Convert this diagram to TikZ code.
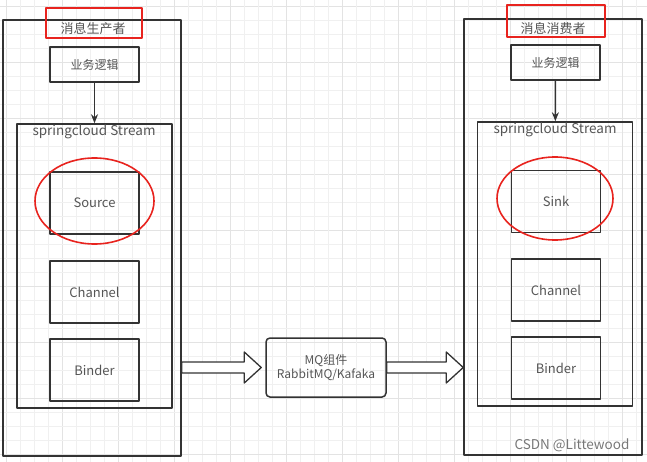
\documentclass[tikz,border=0pt]{standalone}
\usepackage{fontspec}
\setmainfont{Noto Sans CJK SC}
\usetikzlibrary{arrows.meta,calc}
\definecolor{boxline}{HTML}{333333}
\definecolor{boxtext}{HTML}{555555}
\definecolor{markred}{HTML}{E8231E}
\definecolor{gridminor}{HTML}{F0F0F0}
\definecolor{gridmajor}{HTML}{E3E3E3}
\tikzset{
  every picture/.style={line join=round, >={Stealth[length=9pt,width=7pt]}},
  box/.style={draw=boxline, line width=1.5pt, text=boxtext, inner sep=0pt,
    font=\fontsize{13}{15}\selectfont},
  part/.style={box, minimum width=89pt, minimum height=62pt},
  logic/.style={box, minimum width=89pt, minimum height=35pt, font=\fontsize{12}{14}\selectfont},
  stream/.style={box, minimum width=155pt, minimum height=284pt},
  outer/.style={box, minimum width=178pt, minimum height=436pt},
  highlight/.style={draw=markred, line width=1.6pt},
  title/.style={text=boxtext, font=\fontsize{13}{15}\selectfont},
  fatarrow/.style={draw=boxline, line width=1.3pt, fill=white},
}

\begin{document}
\begin{tikzpicture}[x=1pt,y=-1pt]
\useasboundingbox (0,0) rectangle (647,462);
% background grid
\foreach \k in {0,...,46}{
  \pgfmathsetmacro{\p}{6.7+14*\k}
  \pgfmathparse{mod(\k,4)==0 ? "gridmajor" : "gridminor"}
  \draw[\pgfmathresult, line width=0.6pt] (\p,0) -- (\p,462);
  \ifnum\k<33 \draw[\pgfmathresult, line width=0.6pt] (0,\p) -- (647,\p); \fi
}
% producer side
\node[outer] (producer) at (92,238) {};
\node[title] (prodtitle) at (93,29) {消息生产者};
\node[highlight, minimum width=96pt, minimum height=30pt] (prodmark) at (94,23) {};
\node[logic] (prodlogic) at (94.5,64.5) {业务逻辑};
\node[stream] (prodstream) at (94.5,266) {};
\node[title, font=\fontsize{13.5}{15}\selectfont] at (94,132) {springcloud Stream};
\node[part] (source) at (94.5,203) {Source};
\node[part] (prodchannel) at (94.5,292) {Channel};
\node[part] (prodbinder) at (94.5,370) {Binder};
\draw[highlight] (94.5,201) ellipse (59.5 and 43);
\draw[->, boxline, line width=1.5pt] (prodlogic) -- (prodstream);

% consumer side
\node[outer] (consumer) at (553,237) {};
\node[title] (constitle) at (553,28) {消息消费者};
\node[highlight, minimum width=98pt, minimum height=32pt] (consmark) at (556,21) {};
\node[logic] (conslogic) at (555.5,62.5) {业务逻辑};
\node[stream] (consstream) at (555,264) {};
\node[title, font=\fontsize{13.5}{15}\selectfont] at (555,130) {springcloud Stream};
\node[part] (sink) at (556,201.5) {Sink};
\node[part] (conschannel) at (556,290) {Channel};
\node[part] (consbinder) at (556,368) {Binder};
\draw[highlight] (555,198.5) ellipse (58 and 41.5);
\draw[->, boxline, line width=1.5pt] (conslogic) -- (consstream);

% message broker
\node[box, rounded corners=4pt, minimum width=120pt, minimum height=59pt, align=center,
  font=\fontsize{12}{14}\selectfont] (mq) at (326,367.5) {MQ组件\\RabbitMQ/Kafaka};
\coordinate (inA) at (producer.east |- mq.west);
\coordinate (inB) at ($(mq.west)+(-4,0)$);
\coordinate (outA) at (mq.east);
\coordinate (outB) at (consumer.west |- mq.east);
\foreach \a/\b in {inA/inB, outA/outB}{
  \draw[fatarrow] ($(\a)+(0,-5.5)$) -- ($(\b)+(-17,-5.5)$) -- ($(\b)+(-17,-15.5)$)
    -- (\b) -- ($(\b)+(-17,15.5)$) -- ($(\b)+(-17,5.5)$) -- ($(\a)+(0,5.5)$) -- cycle;
}
\node[text=boxtext!80, font=\fontsize{13.5}{15}\selectfont] (watermark) at (572,445) {CSDN @Littewood};
\end{tikzpicture}
\end{document}
